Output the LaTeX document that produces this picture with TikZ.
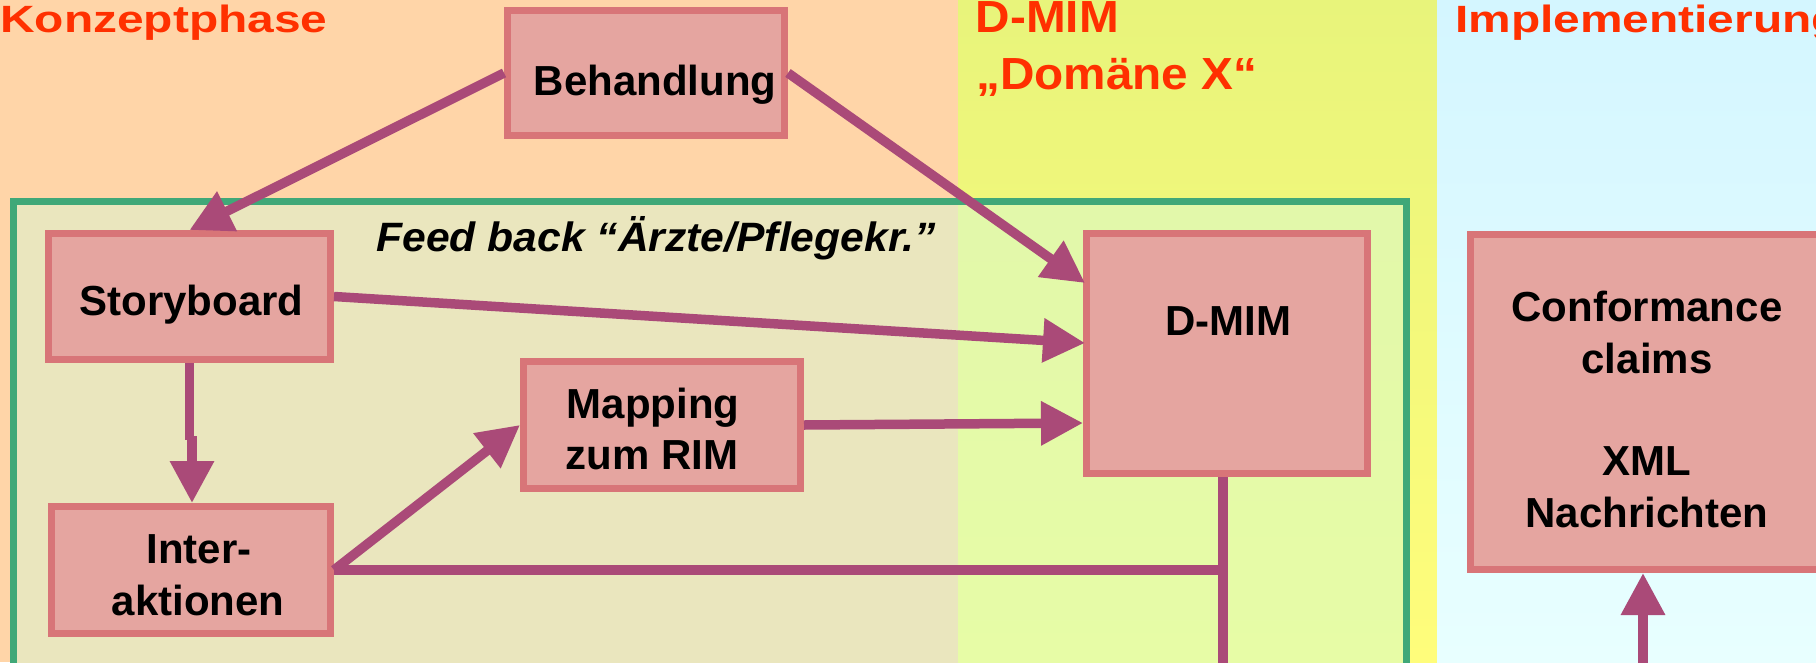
\documentclass[tikz,border=0pt]{standalone}
\usepackage{fontspec}
\setmainfont{Liberation Sans}
\newfontfamily\phasefont[FakeStretch=1.26]{Liberation Sans}
\newfontfamily\domainfont[FakeStretch=1.06]{Liberation Sans}
\newfontfamily\notefont[FakeStretch=1.04]{Liberation Sans}
\usetikzlibrary{arrows.meta,calc}

\definecolor{konzeptbg}{HTML}{FFD5A8}
\definecolor{mimtop}{HTML}{E8F47B}
\definecolor{mimbottom}{HTML}{FFFD7B}
\definecolor{impltop}{HTML}{D4F6FF}
\definecolor{implbottom}{HTML}{E8FFFF}
\definecolor{frameleft}{HTML}{EAE6BE}
\definecolor{framerighttop}{HTML}{E2F8AA}
\definecolor{framerightbottom}{HTML}{E7FCA6}
\definecolor{framegreen}{HTML}{40A878}
\definecolor{boxfill}{HTML}{E5A5A0}
\definecolor{boxline}{HTML}{D87578}
\definecolor{conncol}{HTML}{AA4A78}
\definecolor{titlered}{HTML}{FF3000}

\begin{document}
\begin{tikzpicture}[x=1pt,y=-1pt,
  stepbox/.style={rectangle, draw=boxline, fill=boxfill, line width=7pt, inner sep=0pt},
  boxtext/.style={anchor=base, inner sep=0pt, font=\fontsize{42}{50}\selectfont\bfseries},
  conn/.style={draw=conncol, line width=9.5pt},
  arrowconn/.style={conn, -{Triangle[length=42pt,width=42pt]}},
  phasetitle/.style={anchor=base west, inner sep=0pt, text=titlered,
    font=\phasefont\fontsize{38}{44}\selectfont\bfseries},
  domaintitle/.style={anchor=base west, inner sep=0pt, text=titlered,
    font=\domainfont\fontsize{45}{52}\selectfont\bfseries}
]
\useasboundingbox (0,0) rectangle (1816,662);
\clip (0,0) rectangle (1816,662);

% phase bands
\fill[konzeptbg] (0,0) rectangle (958,662);
\shade[top color=mimtop, bottom color=mimbottom] (958,0) rectangle (1437,662);
\shade[top color=impltop, bottom color=implbottom] (1437,0) rectangle (1816,662);

% feedback frame
\fill[frameleft] (13,201) rectangle (958,680);
\shade[top color=framerighttop, bottom color=framerightbottom] (958,201) rectangle (1406,680);
\draw[framegreen, line width=7pt] (13,201) rectangle (1406,690);

% phase titles
\node[phasetitle] (tkonzept) at (0,32) {Konzeptphase};
\node[domaintitle] (tdmim) at (975.5,32) {D-MIM};
\node[domaintitle] (tdomain) at (976,89) {„Domäne X“};
\node[phasetitle] (timpl) at (1455,32) {Implementierung};

% boxes
\node[stepbox, minimum width=277pt, minimum height=125pt] (beh) at (646,73) {};
\node[stepbox, minimum width=282pt, minimum height=126pt] (sb) at (189.5,296.5) {};
\node[stepbox, minimum width=277pt, minimum height=127pt] (map) at (662,425) {};
\node[stepbox, minimum width=279pt, minimum height=127pt] (ia) at (191,570) {};
\node[stepbox, minimum width=281pt, minimum height=240pt] (dmim) at (1227,353.5) {};
\node[stepbox, minimum width=355pt, minimum height=335pt] (cf) at (1648,402) {};

% box labels
\node[boxtext] (tbeh) at (655,95) {Behandlung};
\node[boxtext] (tsb) at (191.5,315) {Storyboard};
\node[boxtext] (tmap1) at (653,418) {Mapping};
\node[boxtext] (tmap2) at (652,469) {zum RIM};
\node[boxtext] (tia1) at (199,563) {Inter-};
\node[boxtext] (tia2) at (198,615) {aktionen};
\node[boxtext] (tdm) at (1228,335) {D-MIM};
\node[boxtext] (tcf1) at (1647,321) {Conformance};
\node[boxtext] (tcf2) at (1647,373) {claims};
\node[boxtext] (tcf3) at (1647,475) {XML};
\node[boxtext] (tcf4) at (1647,527) {Nachrichten};

% feedback caption
\node[anchor=base, inner sep=0pt, font=\notefont\fontsize{41}{48}\selectfont\bfseries\itshape] (tfb) at (656,251) {Feed back “Ärzte/Pflegekr.”};

% connectors
\draw[arrowconn] (beh.west) -- (sb.north);
\draw[arrowconn] (beh.east) -- ($(dmim.north west)+(2,53)$);
\draw[arrowconn] (sb.east) -- ($(dmim.north west)+(2,113)$);
\draw[conn] (sb.south) -- ++(0,77);
\draw[arrowconn] ($(sb.south)+(2.5,73)$) -- ($(ia.north)+(1,0)$);
\draw[arrowconn] (ia.east) -- (map.west);
\draw[arrowconn] (map.east) -- ($(dmim.north west)+(0,193)$);

\coordinate (jn) at ($(dmim.south |- ia.east)+(-4,0)$);
\coordinate (dmimend) at ($(dmim.south)+(-4,0)$);
\coordinate (dmimfoot) at (dmimend |- 0,670);
\draw[conn] (ia.east) -- (jn);
\draw[conn] (dmimend) -- (dmimfoot);

\coordinate (cffoot) at (1643,670);
\draw[arrowconn] (cffoot) -- (cffoot |- cf.south);
\end{tikzpicture}
\end{document}
